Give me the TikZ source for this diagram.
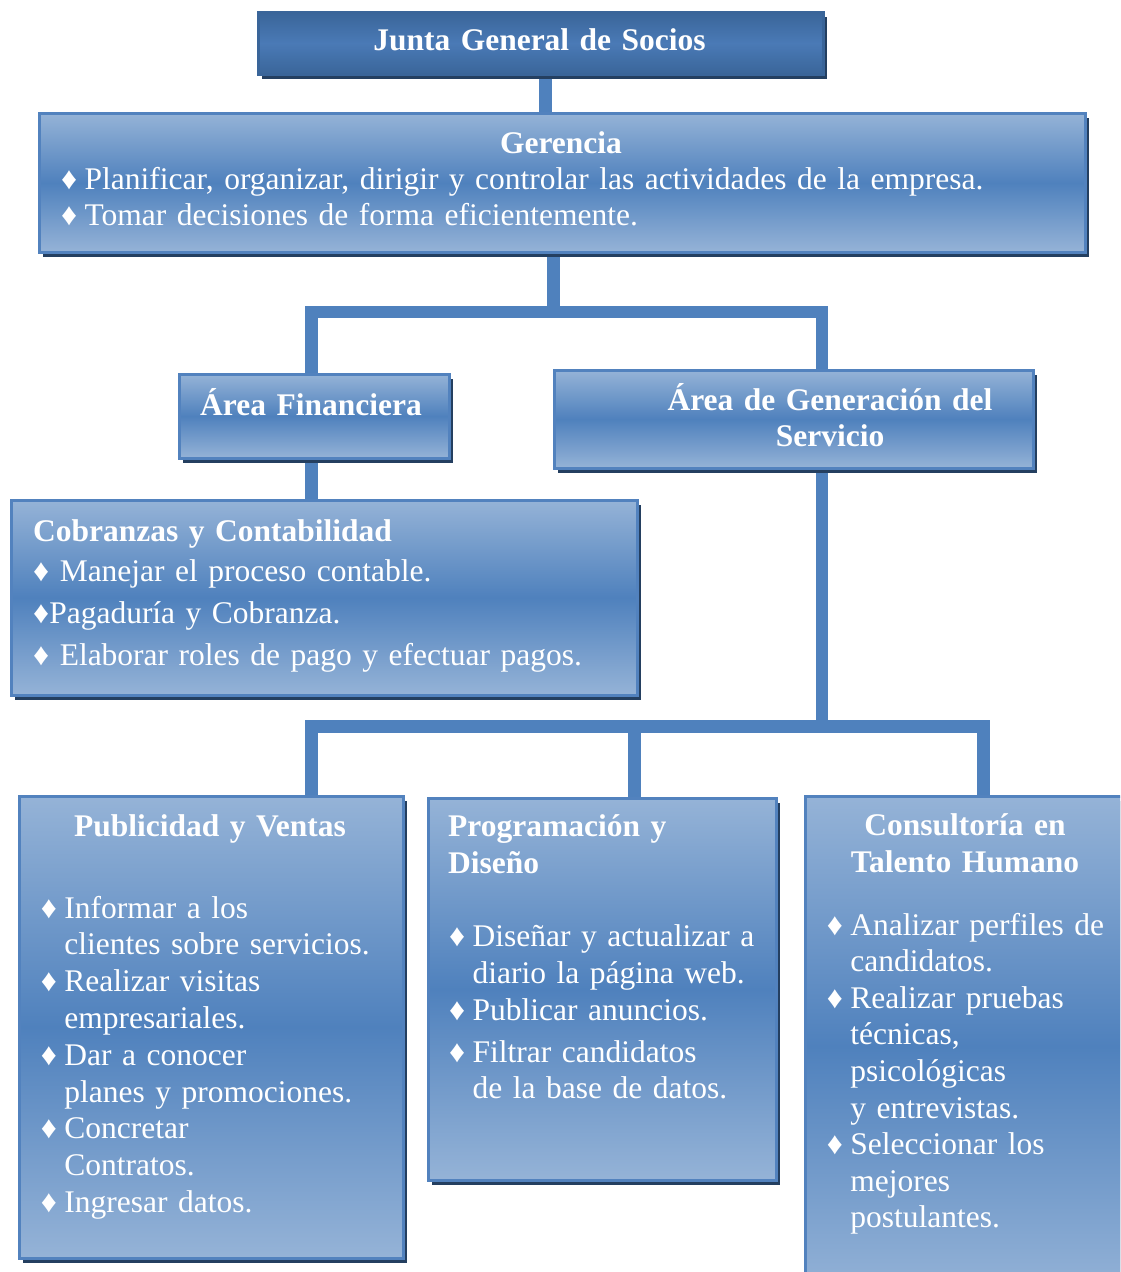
\documentclass[tikz,border=0pt]{standalone}
\usepackage{fontspec}
\setmainfont{Liberation Serif}
\usetikzlibrary{shadows,backgrounds}
\definecolor{lt}{HTML}{95B3D7}
\definecolor{dk}{HTML}{4F81BD}
\definecolor{bord}{HTML}{5282BE}
\definecolor{shd}{HTML}{243F60}
\definecolor{jtop}{HTML}{3A6599}
\definecolor{jmid}{HTML}{4A7AB6}
\definecolor{conn}{HTML}{4F81BD}
\newcommand\mybul{\makebox[23.5pt][l]{♦}}
\newcommand\myind{\hspace*{23.5pt}}
\begin{document}
\begin{tikzpicture}[x=1pt,y=1pt,
  box/.style={rectangle,inner sep=0pt,anchor=north west,draw=bord,line width=2.5pt,
    top color=lt,bottom color=lt,middle color=dk,
    drop shadow={shadow xshift=3.5pt,shadow yshift=-4.5pt,opacity=1,fill=shd}},
  jbox/.style={box,draw=jtop,top color=jtop,bottom color=jtop,middle color=jmid},
  txt/.style={text=white,inner sep=0pt,anchor=base west,align=left,text width=#1,
    font=\fontsize{31.5}{36.8}\selectfont},
  ttl/.style={text=white,inner sep=0pt,anchor=base,align=center,text width=#1,
    font=\fontsize{31.5}{36.8}\selectfont\bfseries},
  connector/.style={draw=conn,line width=12.5pt,line join=miter,line cap=butt}]
\useasboundingbox (0,0) rectangle (1120,-1272);
\clip (0,0) rectangle (1120,-1272);
% boxes
\node[jbox,minimum width=565pt,minimum height=62pt] (junta) at (257,-11) {};
\node[box,minimum width=1046pt,minimum height=139pt] (ger) at (38,-112) {};
\node[box,minimum width=270pt,minimum height=84pt] (af) at (178,-373) {};
\node[box,minimum width=479pt,minimum height=98pt] (ags) at (553,-369) {};
\node[box,minimum width=626pt,minimum height=195pt] (cob) at (10,-499) {};
\node[box,minimum width=384pt,minimum height=462pt] (pub) at (18,-795) {};
\node[box,minimum width=348pt,minimum height=382pt] (prog) at (427,-797) {};
\node[box,minimum width=336pt,minimum height=500pt] (con) at (804,-795) {};
% texts
\node[ttl=540pt] (tjunta) at (539.5,-50) {Junta General de Socios};
\node[ttl=600pt] (tger) at (561,-153) {Gerencia};
\node[txt=1020pt] (bger) at (61,-189) {\mybul Planificar, organizar, dirigir y controlar las actividades de la empresa.\\
\mybul Tomar decisiones de forma eficientemente.};
\node[ttl=260pt] (taf) at (311,-415) {Área Financiera};
\node[ttl=460pt] (tags) at (830,-410) {Área de Generación del\\Servicio};
\node[txt=600pt,font=\fontsize{31.5}{36.8}\selectfont\bfseries] (tcob) at (33,-541) {Cobranzas y Contabilidad};
\node[txt=600pt,font=\fontsize{31.5}{42}\selectfont] (bcob) at (33,-581) {♦ Manejar el proceso contable.\\
♦Pagaduría y Cobranza.\\
♦ Elaborar roles de pago y efectuar pagos.};
\node[ttl=370pt] (tpub) at (210,-836.7) {Publicidad y Ventas};
\node[txt=360pt] (bpub) at (40.7,-918) {\mybul Informar a los\\
\myind clientes sobre servicios.\\
\mybul Realizar visitas\\
\myind empresariales.\\
\mybul Dar a conocer\\
\myind planes y promociones.\\
\mybul Concretar\\
\myind Contratos.\\
\mybul Ingresar datos.};
\node[txt=320pt,font=\fontsize{31.5}{36.5}\selectfont\bfseries] (tprog) at (448,-836.7) {Programación y\\Diseño};
\node[txt=330pt] (bprog) at (449,-946.7) {\mybul Diseñar y actualizar a\\
\myind diario la página web.\\
\mybul Publicar anuncios.\\[5pt]
\mybul Filtrar candidatos\\
\myind de la base de datos.};
\node[ttl=320pt,font=\fontsize{31.5}{37.7}\selectfont\bfseries] (tcon) at (965,-835) {Consultoría en\\Talento Humano};
\node[txt=300pt,font=\fontsize{31.5}{36.6}\selectfont] (bcon) at (826.7,-935) {\mybul Analizar perfiles de\\
\myind candidatos.\\
\mybul Realizar pruebas\\
\myind técnicas,\\
\myind psicológicas\\
\myind y entrevistas.\\
\mybul Seleccionar los\\
\myind mejores\\
\myind postulantes.};
% connector coordinates
\coordinate (j1) at (545.5,-73);
\coordinate (b1l) at (311.5,-312);
\coordinate (b1m) at (553.5,-312);
\coordinate (b1r) at (822,-312);
\coordinate (b2l) at (311.5,-726.5);
\coordinate (b2m) at (634.5,-726.5);
\coordinate (b2t) at (822,-726.5);
\coordinate (b2r) at (983.5,-726.5);
\begin{scope}[on background layer]
\draw[connector] (j1 |- junta.south) -- (j1 |- ger.north);
\draw[connector] (b1m |- ger.south) -- (b1m);
\draw[connector] (b1l |- af.north) -- (b1l) -- (b1r) -- (b1r |- ags.north);
\draw[connector] (b1l |- af.south) -- (b1l |- cob.north);
\draw[connector] (b2t |- ags.south) -- (b2t);
\draw[connector] (b2l |- pub.north) -- (b2l) -- (b2r) -- (b2r |- con.north);
\draw[connector] (b2m) -- (b2m |- prog.north);
\end{scope}
\end{tikzpicture}
\end{document}
